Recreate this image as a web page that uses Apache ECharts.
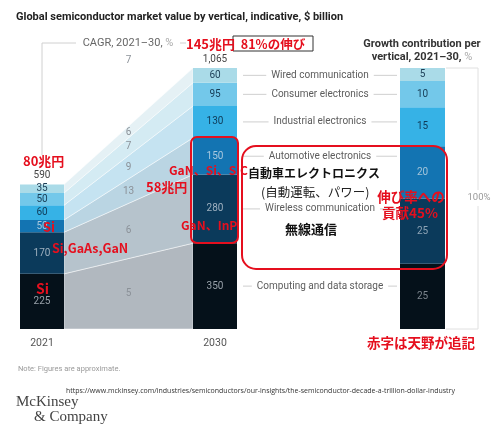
<!DOCTYPE html>
<html>
<head>
<meta charset="utf-8">
<script src="https://cdn.jsdelivr.net/npm/echarts@6/dist/echarts.min.js"></script>
<style>
  html, body { margin: 0; padding: 0; background: #fff; }
  #chart { width: 494px; height: 430px; }
</style>
</head>
<body>
<div id="chart"></div>
<script>
// Segments listed bottom-to-top, as they are stacked.
const verticals = [
  'Computing and data storage',
  'Wireless communication',
  'Automotive electronics',
  'Industrial electronics',
  'Consumer electronics',
  'Wired communication'
];
const years = ['2021', '2030'];
const value2021 = [225, 170, 50, 60, 50, 35];      // $ billion
const value2030 = [350, 280, 150, 130, 95, 60];    // $ billion
const cagr = [5, 6, 13, 9, 7, 6];                  // %, 2021-30
const totalCagr = 7;                               // %, whole market
const contribution = [25, 25, 20, 15, 10, 5];      // % of growth, 2021-30

const barColors   = ['#05111a', '#0b3a5b', '#1374b2', '#36b2e6', '#73c8ea', '#aadbe8'];
const bandColors  = ['#b1b8bf', '#b6c3cc', '#bad5e3', '#c5e3f1', '#d4ebf3', '#e5f1f5'];
const labelColors = ['#98a1a9', '#9fb1c0', '#a9c8de', '#0f3a57', '#173c55', '#1c3d55'];
const shareLabelColors = ['#7d868e', '#8ea4b6', '#a3c4da', '#0f3a57', '#173c55', '#1c3d55'];

const SANS = 'Roboto, "Noto Sans", sans-serif';
const JP = '"Noto Sans CJK JP", sans-serif';
const RED = '#e50f1e';
const BAR_W = 44;
const RIGHT_LEFT = 400, RIGHT_W = 45;
const PLOT_TOP = 68, PLOT_BOTTOM = 101;
const TOP_Z = 100;

function cumulative(arr) {
  let s = 0;
  return arr.map(v => { const lo = s; s += v; return [lo, s]; });
}
const seg21 = cumulative(value2021);
const seg30 = cumulative(value2030);
const total21 = seg21[seg21.length - 1][1];
const total30 = seg30[seg30.length - 1][1];

const bandData = verticals.map((n, i) => [i, seg21[i][0], seg21[i][1], seg30[i][0], seg30[i][1], cagr[i]]);
const barData = [];
[seg21, seg30].forEach((segs, yr) => {
  const vals = yr ? value2030 : value2021;
  vals.forEach((v, i) => barData.push([yr, segs[i][0], segs[i][1], v, i]));
});

function renderBand(params, api) {
  const i = api.value(0);
  const half = BAR_W / 2;
  const a = api.coord([0, api.value(1)]), b = api.coord([0, api.value(2)]);
  const c = api.coord([1, api.value(3)]), d = api.coord([1, api.value(4)]);
  const mid = api.coord([0.5, (api.value(1) + api.value(2) + api.value(3) + api.value(4)) / 4]);
  return {
    type: 'group',
    children: [
      {
        type: 'polygon',
        shape: { points: [[a[0] + half, a[1]], [c[0] - half, c[1]], [d[0] - half, d[1]], [b[0] + half, b[1]]] },
        style: { fill: bandColors[i], stroke: 'rgba(255,255,255,0.6)', lineWidth: 0.8 }
      },
      {
        type: 'text', x: mid[0], y: mid[1],
        style: { text: String(api.value(5)), fill: '#8b9198', font: '10px ' + SANS, textAlign: 'center', textVerticalAlign: 'middle' }
      }
    ]
  };
}

function renderBar(params, api) {
  const yr = api.value(0), lo = api.value(1), hi = api.value(2), v = api.value(3), i = api.value(4);
  const top = api.coord([yr, hi]), bot = api.coord([yr, lo]);
  const half = BAR_W / 2;
  const cy = (top[1] + bot[1]) / 2;
  const children = [
    { type: 'rect', shape: { x: top[0] - half, y: top[1], width: BAR_W, height: bot[1] - top[1] }, style: { fill: barColors[i] } },
    { type: 'text', x: top[0], y: cy, style: { text: String(v), fill: labelColors[i], font: '10px ' + SANS, textAlign: 'center', textVerticalAlign: 'middle' } }
  ];
  if (yr === 1) {
    const x0 = top[0] + half + 6, x1 = RIGHT_LEFT - 3;
    children.push({ type: 'line', shape: { x1: x0, y1: cy, x2: x1, y2: cy }, style: { stroke: '#cfcfcf', lineWidth: 1 } });
    children.push({
      type: 'text', x: (x0 + x1) / 2, y: cy,
      style: {
        text: verticals[i], fill: '#5c5c5c', font: '10px ' + SANS,
        textAlign: 'center', textVerticalAlign: 'middle',
        backgroundColor: '#fff', padding: [1, 5]
      }
    });
  }
  return { type: 'group', children };
}

function renderTotal(params, api) {
  const p = api.coord([api.value(0), api.value(1)]);
  return {
    type: 'text', x: p[0], y: p[1] - 9,
    style: { text: api.value(1).toLocaleString('en-US'), fill: '#444', font: '10px ' + SANS, textAlign: 'center', textVerticalAlign: 'middle' }
  };
}

function renderTotalCagr(params, api) {
  const p = api.coord([api.value(0), api.value(1)]);
  return {
    type: 'text', x: p[0], y: p[1] - 8,
    style: { text: String(api.value(2)), fill: '#8b9198', font: '10px ' + SANS, textAlign: 'center', textVerticalAlign: 'middle' }
  };
}

const shareSeries = verticals.map((name, i) => ({
  type: 'bar', name, xAxisIndex: 1, yAxisIndex: 1, stack: 'share', barWidth: '100%',
  data: [contribution[i]],
  itemStyle: { color: barColors[i] },
  label: { show: true, position: 'inside', color: shareLabelColors[i], fontSize: 10, fontFamily: SANS }
}));

function txt(x, y, text, font, fill, align) {
  return { type: 'text', x, y, z: TOP_Z, silent: true, style: { text, font, fill, textAlign: align || 'left', textVerticalAlign: 'middle' } };
}

const graphics = [
  txt(16, 17, 'Global semiconductor market value by vertical, indicative, $ billion', 'bold 11px ' + SANS, '#222'),
  // CAGR bracket
  { type: 'polyline', silent: true, shape: { points: [[42, 155], [42, 43], [76, 43]] }, style: { stroke: '#d0d0d0', lineWidth: 1, fill: null } },
  { type: 'line', silent: true, shape: { x1: 180, y1: 43, x2: 186, y2: 43 }, style: { stroke: '#d0d0d0', lineWidth: 1 } },
  {
    type: 'text', x: 128, y: 43, silent: true,
    style: {
      text: '{a|CAGR, 2021–30, }{b|%}', textAlign: 'center', textVerticalAlign: 'middle',
      rich: { a: { font: '11px ' + SANS, fill: '#666' }, b: { font: '11px ' + SANS, fill: '#aaa' } }
    }
  },
  // growth contribution header
  txt(422, 44, 'Growth contribution per', 'bold 11px ' + SANS, '#333', 'center'),
  {
    type: 'text', x: 422, y: 57, silent: true,
    style: {
      text: '{a|vertical, 2021–30, }{b|%}', textAlign: 'center', textVerticalAlign: 'middle',
      rich: { a: { font: 'bold 11px ' + SANS, fill: '#333' }, b: { font: '11px ' + SANS, fill: '#aaa' } }
    }
  },
  // 100% bracket
  { type: 'polyline', silent: true, shape: { points: [[446, 68], [478, 68], [478, 190]] }, style: { stroke: '#e0e0e0', lineWidth: 1, fill: null } },
  { type: 'polyline', silent: true, shape: { points: [[478, 206], [478, 329], [446, 329]] }, style: { stroke: '#e0e0e0', lineWidth: 1, fill: null } },
  txt(479, 198, '100%', '9.5px ' + SANS, '#999', 'center'),
  // footer
  txt(18, 369, 'Note: Figures are approximate.', '7.5px ' + SANS, '#9a9a9a'),
  txt(66, 391, 'https://www.mckinsey.com/industries/semiconductors/our-insights/the-semiconductor-decade-a-trillion-dollar-industry', '7px "Open Sans", sans-serif', '#333'),
  txt(16, 402, 'McKinsey', '15px "Liberation Serif", serif', '#444'),
  txt(34, 417, '& Company', '15px "Liberation Serif", serif', '#444'),
  // red notes
  { type: 'rect', z: TOP_Z, silent: true, shape: { x: 191, y: 137, width: 47, height: 106, r: 6 }, style: { fill: null, stroke: RED, lineWidth: 2 } },
  { type: 'rect', z: TOP_Z, silent: true, shape: { x: 242, y: 146, width: 205, height: 123, r: 14 }, style: { fill: null, stroke: RED, lineWidth: 2 } },
  { type: 'rect', z: TOP_Z, silent: true, shape: { x: 233, y: 36, width: 80, height: 15 }, style: { fill: '#fff', stroke: '#333', lineWidth: 1 } },
  txt(273, 44, '81%の伸び', 'bold 12.5px ' + JP, RED, 'center'),
  txt(186, 44, '145兆円', 'bold 13px ' + JP, RED),
  txt(23, 161, '80兆円', 'bold 13px ' + JP, RED),
  txt(43, 227, 'Si', 'bold 13px ' + JP, RED),
  txt(52, 248, 'Si,GaAs,GaN', 'bold 12.5px ' + JP, RED),
  txt(36, 289, 'Si', 'bold 14px ' + JP, RED),
  txt(169, 170, 'GaN、Si、SiC', 'bold 12px ' + JP, RED),
  txt(146, 187, '58兆円', 'bold 13px ' + JP, RED),
  txt(181, 225, 'GaN、InP', 'bold 12px ' + JP, RED),
  txt(248, 173, '自動車エレクトロニクス', 'bold 12px ' + JP, '#111'),
  txt(261, 192, '(自動運転、パワー)', '12.5px ' + JP, '#222'),
  txt(285, 229, '無線通信', 'bold 13px ' + JP, '#111'),
  txt(411, 197, '伸び率への', 'bold 13.5px ' + JP, RED, 'center'),
  txt(410, 213, '貢献45%', 'bold 13.5px ' + JP, RED, 'center'),
  txt(421, 343, '赤字は天野が追記', 'bold 13.5px ' + JP, RED, 'center')
];

const chart = echarts.init(document.getElementById('chart'), null, { renderer: 'canvas' });
chart.setOption({
  animation: false,
  backgroundColor: '#fff',
  grid: [
    { left: 42, width: 173, top: PLOT_TOP, bottom: PLOT_BOTTOM, outerBoundsMode: 'none' },
    { left: RIGHT_LEFT, width: RIGHT_W, top: PLOT_TOP, bottom: PLOT_BOTTOM, outerBoundsMode: 'none' }
  ],
  xAxis: [
    {
      type: 'value', gridIndex: 0, min: 0, max: 1, interval: 1,
      axisLine: { show: false }, axisTick: { show: false }, splitLine: { show: false },
      axisLabel: { margin: 9, color: '#555', fontSize: 10.5, fontFamily: SANS, formatter: v => years[v] || '' }
    },
    { type: 'category', gridIndex: 1, data: ['share'], show: false }
  ],
  yAxis: [
    { type: 'value', gridIndex: 0, min: 0, max: total30, show: false, splitLine: { show: false } },
    { type: 'value', gridIndex: 1, min: 0, max: 100, show: false, splitLine: { show: false } }
  ],
  series: [
    { type: 'custom', xAxisIndex: 0, yAxisIndex: 0, renderItem: renderBand, data: bandData, silent: true },
    { type: 'custom', xAxisIndex: 0, yAxisIndex: 0, renderItem: renderBar, data: barData, silent: true },
    { type: 'custom', xAxisIndex: 0, yAxisIndex: 0, renderItem: renderTotal, data: [[0, total21], [1, total30]], silent: true },
    { type: 'custom', xAxisIndex: 0, yAxisIndex: 0, renderItem: renderTotalCagr, data: [[0.5, total30, totalCagr]], silent: true },
    ...shareSeries
  ],
  graphic: graphics
});
</script>
</body>
</html>
